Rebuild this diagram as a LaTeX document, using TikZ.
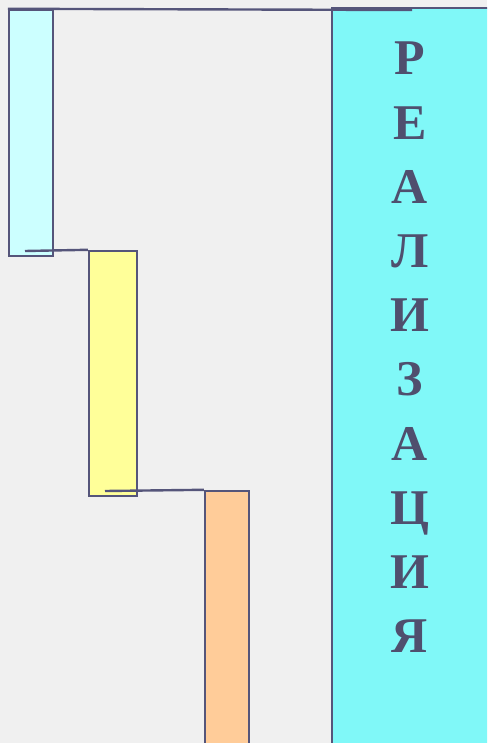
\documentclass[tikz,border=0pt]{standalone}
\usepackage{fontspec}
\setmainfont{Liberation Serif}
\usetikzlibrary{positioning}
\definecolor{edgegray}{HTML}{55557A}
\definecolor{textgray}{HTML}{4F4F6E}
\definecolor{backgray}{HTML}{F0F0F0}
\definecolor{stepcyan}{HTML}{CCFFFF}
\definecolor{stepyellow}{HTML}{FFFF99}
\definecolor{steporange}{HTML}{FFCC99}
\definecolor{bigcyan}{HTML}{80F8F8}

\begin{document}
\begin{tikzpicture}[
  x=1pt, y=-1pt,
  bar/.style={rectangle, draw=edgegray, line width=2.4pt, inner sep=0pt},
  link/.style={edgegray, line width=2.4pt},
  word/.style={font=\fontsize{50}{64.2}\selectfont\bfseries, text=textgray,
               align=center, inner sep=0pt, anchor=north},
]
  \useasboundingbox (0,0) rectangle (487,743);
  \clip (0,0) rectangle (487,743);
  \fill[backgray] (0,0) rectangle (487,743);

  % --- Big column (right) ---
  \node[bar, fill=bigcyan, minimum width=168pt, minimum height=752pt] (big) at (416,384) {};

  % --- Steps ---
  \node[bar, fill=stepcyan, minimum width=44pt, minimum height=246pt] (s1) at (31,133) {};
  \node[bar, fill=stepyellow, minimum width=48pt, minimum height=245pt] (s2) at (113,373.5) {};
  \node[bar, fill=steporange, minimum width=44pt, minimum height=270pt] (s3) at (227,626) {};

  % Connecting lines
  \coordinate (e1) at (412,10);
  \coordinate (b1) at (25,251);
  \coordinate (b2) at (105,491);
  \draw[link] (s1.north west) -- (e1);
  \draw[link] (b1) -- (s2.north west);
  \draw[link] (b2) -- (s3.north west);

  \node[word] (title) at (410,42) {Р\\Е\\А\\Л\\И\\З\\А\\Ц\\И\\Я};
\end{tikzpicture}
\end{document}
